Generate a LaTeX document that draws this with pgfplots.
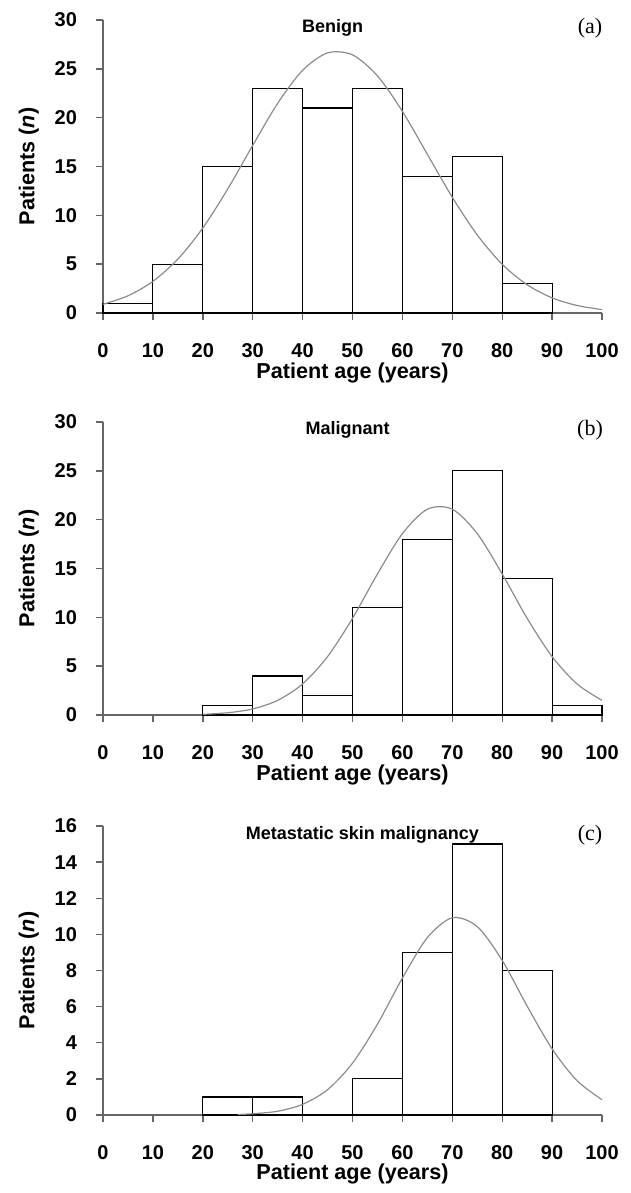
\documentclass[border=0pt]{standalone}
\usepackage{fontspec}
\setmainfont{Liberation Sans}
\newfontfamily\serifpanel{Liberation Serif}
\usepackage{pgfplots}
\pgfplotsset{compat=1.18}

\pgfplotsset{
  histo/.style={
    scale only axis,
    width=249.5pt, height=146.5pt,
    xmin=0, xmax=100,
    xtick={0,10,...,100},
    axis lines*=left,
    axis line style={draw=black!60, line width=0.8pt},
    tick style={draw=black!60, line width=0.7pt},
    tick align=outside,
    major tick length=3.5pt,
    /pgf/number format/assume math mode=true,
    ticklabel style={font=\fontsize{10}{12}\selectfont\bfseries},
    xticklabel style={yshift=-8pt},
    yticklabel style={xshift=-6pt},
    xlabel={Patient age (years)},
    ylabel={Patients (\textit{n})},
    label style={font=\fontsize{10.8}{13}\selectfont\bfseries},
    xlabel style={at={(axis description cs:0.5,0)}, anchor=north, yshift=-21.5pt},
    ylabel style={yshift=1pt},
    clip=false,
  },
  bars/.style={ybar interval, fill=white, draw=black, line width=0.6pt},
  fit/.style={smooth, draw=black!45, line width=0.6pt, no marks},
}

\begin{document}
\begin{tikzpicture}
\useasboundingbox (0,0) rectangle (315.5pt,-596.5pt);

% (a) Benign
\begin{axis}[histo, at={(51.5pt,-156.5pt)}, anchor=south west,
    ymin=0, ymax=30, ytick={0,5,...,30}]
\addplot[bars] coordinates {
  (0,1) (10,5) (20,15) (30,23) (40,21) (50,23) (60,14) (70,16) (80,3) (90,3)
};
\addplot[fit] coordinates {
  (0,0.89) (5,1.76) (10,3.24) (15,5.52) (20,8.70) (25,12.70) (30,17.16) (35,21.46)
  (40,24.85) (45,26.63) (50,26.43) (55,24.28) (60,20.65) (65,16.25)
  (70,11.85) (75,7.99) (80,4.99) (85,2.89) (90,1.55) (95,0.77) (100,0.35)
};
\node[font=\fontsize{9}{11}\selectfont\bfseries] at (axis cs:46,29.2) {Benign};
\node[font=\fontsize{11}{13}\selectfont\serifpanel] at (axis cs:97.6,29.2) {(a)};
\end{axis}

% (b) Malignant
\begin{axis}[histo, at={(51.5pt,-357.5pt)}, anchor=south west,
    ymin=0, ymax=30, ytick={0,5,...,30}]
\addplot[bars] coordinates {
  (20,1) (30,4) (40,2) (50,11) (60,18) (70,25) (80,14) (90,1) (100,1)
};
\addplot[fit] coordinates {
  (20,0.07) (25,0.23) (30,0.62) (35,1.50) (40,3.18) (45,5.98) (50,9.90) (55,14.44)
  (60,18.57) (65,21.07) (70,21.07) (75,18.57) (80,14.44) (85,9.90)
  (90,5.98) (95,3.18) (100,1.50)
};
\node[font=\fontsize{9}{11}\selectfont\bfseries] at (axis cs:49,29.2) {Malignant};
\node[font=\fontsize{11}{13}\selectfont\serifpanel] at (axis cs:97.6,29.2) {(b)};
\end{axis}

% (c) Metastatic skin malignancy
% yshift adds up: net -21pt for this label
\begin{axis}[histo, at={(51.5pt,-557.5pt)}, anchor=south west, height=144.5pt,
    ymin=0, ymax=16, ytick={0,2,...,16},
    xlabel style={yshift=0.5pt}]
\addplot[bars] coordinates {
  (20,1) (30,1) (40,0) (50,2) (60,9) (70,15) (80,8) (90,8)
};
\addplot[fit] coordinates {
  (27,0.03) (30,0.07) (35,0.21) (40,0.59) (45,1.40) (50,2.87) (55,5.03) (60,7.58)
  (65,9.82) (70,10.92) (75,10.43) (80,8.56) (85,6.03) (90,3.66)
  (95,1.90) (100,0.85)
};
\node[font=\fontsize{9}{11}\selectfont\bfseries] at (axis cs:52,15.5) {Metastatic skin malignancy};
\node[font=\fontsize{11}{13}\selectfont\serifpanel] at (axis cs:97.6,15.5) {(c)};
\end{axis}
\end{tikzpicture}
\end{document}
